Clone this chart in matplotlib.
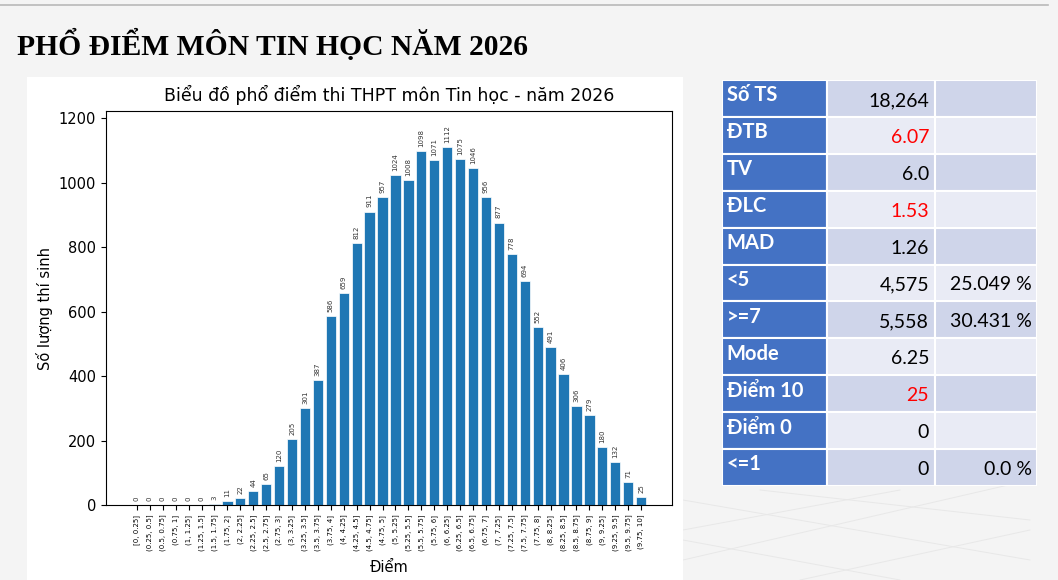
import matplotlib.pyplot as plt
from matplotlib.patches import Rectangle
from matplotlib.lines import Line2D

# score bins (0.25 wide) and number of candidates in each
bins = ['[0, 0.25]', '(0.25, 0.5]', '(0.5, 0.75]', '(0.75, 1]', '(1, 1.25]',
        '(1.25, 1.5]', '(1.5, 1.75]', '(1.75, 2]', '(2, 2.25]', '(2.25, 2.5]',
        '(2.5, 2.75]', '(2.75, 3]', '(3, 3.25]', '(3.25, 3.5]', '(3.5, 3.75]',
        '(3.75, 4]', '(4, 4.25]', '(4.25, 4.5]', '(4.5, 4.75]', '(4.75, 5]',
        '(5, 5.25]', '(5.25, 5.5]', '(5.5, 5.75]', '(5.75, 6]', '(6, 6.25]',
        '(6.25, 6.5]', '(6.5, 6.75]', '(6.75, 7]', '(7, 7.25]', '(7.25, 7.5]',
        '(7.5, 7.75]', '(7.75, 8]', '(8, 8.25]', '(8.25, 8.5]', '(8.5, 8.75]',
        '(8.75, 9]', '(9, 9.25]', '(9.25, 9.5]', '(9.5, 9.75]', '(9.75, 10]']
counts = [0, 0, 0, 0, 0, 0, 3, 11, 22, 44,
          65, 120, 205, 301, 387, 586, 659, 812, 911, 957,
          1024, 1008, 1098, 1071, 1112, 1075, 1046, 956, 877, 778,
          694, 552, 491, 406, 306, 279, 180, 132, 71, 25]

# summary table
stat_names = ['Số TS', 'ĐTB', 'TV', 'ĐLC', 'MAD', '<5', '>=7', 'Mode',
              'Điểm 10', 'Điểm 0', '<=1']
stat_values = ['18,264', '6.07', '6.0', '1.53', '1.26', '4,575', '5,558',
               '6.25', '25', '0', '0']
stat_percents = ['', '', '', '', '', '25.049 %', '30.431 %', '', '', '', '0.0 %']
highlight = ['ĐTB', 'ĐLC', 'Điểm 10']

W, H = 1058, 580
fig = plt.figure(figsize=(W / 100, H / 100), dpi=100, facecolor='#f4f4f4')


def px(x0, y0, x1, y1):
	# pixel box (top-left origin) -> figure fraction rect
	return [x0 / W, 1 - y1 / H, (x1 - x0) / W, (y1 - y0) / H]


# page decoration: top rule and faint floor grid
fig.add_artist(Line2D([0, 1048 / W], [1 - 4.5 / H] * 2, color='#b8b8b8', lw=1.2))
gx = [(683, 500, 1030, 560), (683, 540, 900, 580), (760, 490, 1030, 520),
      (683, 560, 1030, 480), (800, 580, 1030, 530), (900, 490, 683, 530)]
for x0, y0, x1, y1 in gx:
	fig.add_artist(Line2D([x0 / W, x1 / W], [1 - y0 / H, 1 - y1 / H],
	                      color='#e8e8e8', lw=0.7, zorder=0))

fig.text(17 / W, 1 - 45 / H, 'PHỔ ĐIỂM MÔN TIN HỌC NĂM 2026',
         fontsize=21.3, fontweight='bold', family='Liberation Serif',
         ha='left', va='center', color='black')

# white card behind the chart
fig.add_artist(Rectangle((27 / W, 0), (683 - 27) / W, 1 - 77 / H,
                         transform=fig.transFigure, facecolor='white',
                         edgecolor='none', zorder=0))

ax = fig.add_axes(px(106, 111, 672, 505))
x = list(range(len(counts)))
bars = ax.bar(x, counts, color='#1f77b4', edgecolor='white', linewidth=0.5)
ax.bar_label(bars, labels=[str(c) for c in counts], rotation=90, fontsize=5,
             padding=3, color='#333333')
ax.set_xticks(x)
ax.set_xticklabels(bins, rotation=90, fontsize=5)
ax.set_ylim(0, max(counts) * 1.1)
ax.tick_params(axis='y', labelsize=10.5)
ax.set_title('Biểu đồ phổ điểm thi THPT môn Tin học - năm 2026', fontsize=12.5, pad=7)
ax.set_ylabel('Số lượng thí sinh', fontsize=10.5)
ax.set_xlabel('Điểm', fontsize=10.5, labelpad=6)

# stats table drawn cell by cell
col_edges = [0, 105, 213.5, 315]
row_h = 36.9
tax = fig.add_axes(px(721.7, 80, 1036.7, 80 + row_h * len(stat_names)))
tax.set_xlim(0, 315)
tax.set_ylim(row_h * len(stat_names), 0)
tax.axis('off')
tfont = ['Lato', 'DejaVu Sans']
for i, name in enumerate(stat_names):
	y0 = i * row_h
	fill = '#cfd5ea' if i % 2 == 0 else '#e9ebf5'
	colors = ['#4472c4', fill, fill]
	for j in range(3):
		tax.add_patch(Rectangle((col_edges[j], y0), col_edges[j + 1] - col_edges[j], row_h,
		                        facecolor=colors[j], edgecolor='white', lw=1.5))
	tax.text(5, y0 + row_h / 2 - 3, name, color='white', fontweight='bold',
	         fontsize=14.5, family=tfont, ha='left', va='center')
	vcol = 'red' if name in highlight else 'black'
	tax.text(col_edges[2] - 6, y0 + row_h / 2 + 2, stat_values[i], color=vcol,
	         fontsize=14, family=tfont, ha='right', va='center')
	if stat_percents[i]:
		tax.text(col_edges[3] - 5, y0 + row_h / 2 + 2, stat_percents[i], color='black',
		         fontsize=14, family=tfont, ha='right', va='center')

fig.savefig('out.png', dpi=100, facecolor=fig.get_facecolor())
